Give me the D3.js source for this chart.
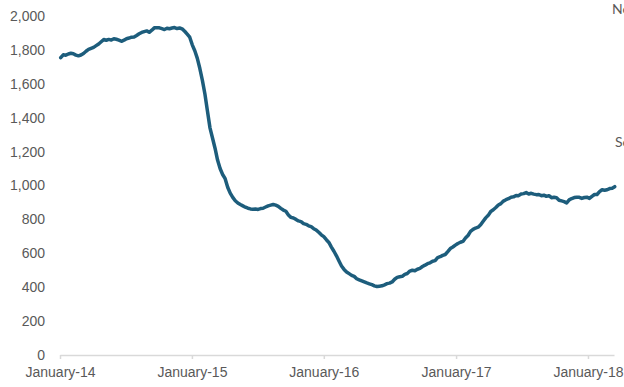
<!DOCTYPE html>
<html>
<head>
<meta charset="utf-8">
<script src="https://cdn.jsdelivr.net/npm/d3@7"></script>
<style>
  html, body { margin: 0; padding: 0; background: #fff; overflow: hidden; }
  svg { display: block; font-family: Lato, "Open Sans", sans-serif; }
</style>
</head>
<body>
<svg id="chart" width="624" height="387"></svg>
<script>
// Weekly rig count, first reading on 3 January 2014, one value per week
const firstWeek = "2014-01-03";
const rigCount = [
  1754, 1771, 1769, 1776, 1780, 1777, 1769, 1765, 1770, 1779,
  1792, 1803, 1809, 1815, 1825, 1835, 1848, 1861, 1857, 1862,
  1858, 1866, 1863, 1858, 1851, 1857, 1866, 1870, 1875, 1876,
  1885, 1895, 1903, 1908, 1912, 1904, 1916, 1930, 1931, 1930,
  1925, 1920, 1928, 1925, 1929, 1932, 1926, 1929, 1924, 1910,
  1893, 1875, 1830, 1795, 1750, 1690, 1620, 1540, 1440, 1340,
  1280, 1220, 1150, 1100, 1065, 1040,  990,  955,  930,  910,
   897,  888,  880,  872,  866,  862,  860,  861,  859,  864,
   866,  873,  880,  884,  888,  884,  877,  865,  855,  848,
   826,  812,  808,  800,  791,  787,  775,  771,  762,  757,
   745,  737,  724,  709,  698,  680,  664,  637,  612,  585,
   555,  525,  505,  490,  480,  470,  464,  450,  443,  437,
   431,  425,  420,  415,  408,  404,  406,  408,  414,  421,
   424,  431,  447,  458,  462,  464,  476,  481,  495,  500,
   497,  506,  511,  522,  530,  539,  544,  553,  557,  575,
   580,  588,  593,  610,  628,  637,  648,  658,  665,  670,
   690,  705,  729,  741,  749,  754,  768,  789,  809,  824,
   847,  857,  870,  885,  893,  908,  916,  922,  931,  933,
   941,  940,  950,  952,  958,  950,  954,  949,  946,  947,
   940,  943,  936,  940,  928,  931,  928,  913,  909,  905,
   897,  915,  923,  929,  931,  930,  924,  929,  931,  924,
   936,  947,  947,  964,  975,  972,  975,  982,  984,  993
];
const yearTicks = ["2014-01-01", "2015-01-01", "2016-01-01", "2017-01-01", "2018-01-01"];
const valueTicks = [0, 200, 400, 600, 800, 1000, 1200, 1400, 1600, 1800, 2000];
const sideNotes = ["Note:", "Source:"];

const parse = d3.utcParse("%Y-%m-%d");
const start = parse(firstWeek);
const series = rigCount.map((v, i) => ({ date: d3.utcDay.offset(start, 7 * i), value: v }));

const svg = d3.select("#chart");
const textColor = "#595959";

const x = d3.scaleUtc()
  .domain([parse("2014-01-01"), parse("2018-03-14")])
  .range([60, 614]);
const y = d3.scaleLinear().domain([0, 2000]).range([355, 16]);

// Value axis: labels only
const yAxis = svg.append("g")
  .attr("transform", "translate(52,0)")
  .call(d3.axisLeft(y).tickValues(valueTicks).tickFormat(d3.format(",")).tickSize(0).tickPadding(7));
yAxis.select(".domain").remove();
yAxis.selectAll("text").attr("fill", textColor).style("font-size", "14px");

// Time axis along the baseline
const xAxis = svg.append("g")
  .attr("transform", "translate(0,355)")
  .call(d3.axisBottom(x)
    .tickValues(yearTicks.map(parse))
    .tickFormat(d3.utcFormat("%B-%y"))
    .tickSizeInner(4).tickSizeOuter(0).tickPadding(8));
xAxis.select(".domain").attr("stroke", "#d9d9d9").attr("stroke-width", 1.5);
xAxis.selectAll(".tick line").attr("stroke", "#d9d9d9").attr("stroke-width", 1.5);
xAxis.selectAll("text").attr("fill", textColor).style("font-size", "14px");

// Rig count line
const line = d3.line().x(d => x(d.date)).y(d => y(d.value)).curve(d3.curveLinear);
svg.append("path")
  .datum(series)
  .attr("d", line)
  .attr("fill", "none")
  .attr("stroke", "#1d5d7c")
  .attr("stroke-width", 3.5)
  .attr("stroke-linejoin", "round")
  .attr("stroke-linecap", "round");

// Side notes running past the right edge
svg.selectAll("text.side")
  .data(sideNotes)
  .join("text")
  .attr("class", "side")
  .attr("x", (d, i) => i === 0 ? 612 : 615)
  .attr("y", (d, i) => i === 0 ? 14 : 147)
  .attr("fill", textColor)
  .style("font-size", "14px")
  .text(d => d);
</script>
</body>
</html>
